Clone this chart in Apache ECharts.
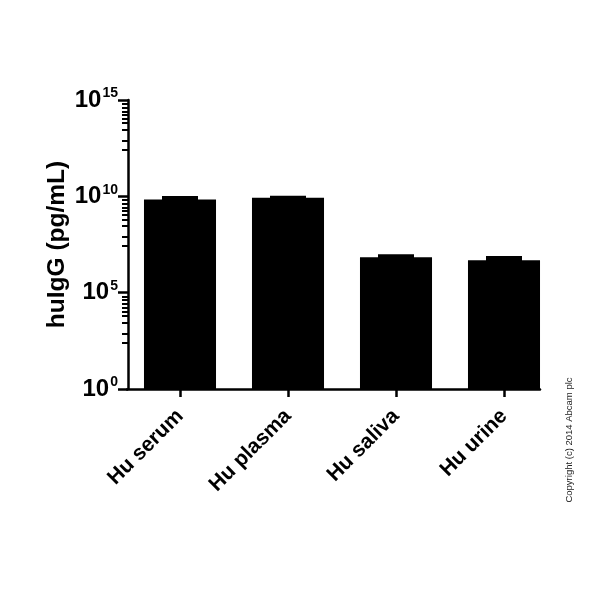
<!DOCTYPE html>
<html>
<head>
<meta charset="utf-8">
<script src="https://cdn.jsdelivr.net/npm/echarts@6/dist/echarts.min.js"></script>
<style>html,body{margin:0;padding:0;background:#fff}#c{width:594px;height:594px}</style>
</head>
<body>
<div id="c"></div>
<script>
const categories = ['Hu serum', 'Hu plasma', 'Hu saliva', 'Hu urine'];
const meanValues = [6.9e9, 8.5e9, 6.8e6, 4.8e6];
const upperValues = [1.04e10, 1.07e10, 1.0e7, 8.0e6];
const majorTickExponents = [0, 5, 10, 15];
// minor tick positions (decimal exponents) within each 5-decade span
const minorTickOffsets = [4.81, 4.62, 4.41, 4.24, 4.03, 3.81, 3.45, 2.88, 2.41];
const copyrightText = 'Copyright (c) 2014 Abcam plc';

const majorTicks = majorTickExponents.map(e => Math.pow(10, e));
const minorTicks = [];
[0, 5, 10].forEach(b => minorTickOffsets.forEach(o => minorTicks.push(Math.pow(10, b + o))));

const FONT = '"Liberation Sans", Arial, sans-serif';
const chart = echarts.init(document.getElementById('c'), null, {renderer: 'canvas'});

const gridBase = {top: 100, bottom: 205};
chart.setOption({
  animation: false,
  backgroundColor: '#fff',
  grid: [
    Object.assign({left: 126, width: 432}, gridBase),
    Object.assign({left: 127, right: 54}, gridBase)
  ],
  xAxis: [{
    type: 'category', gridIndex: 0, data: categories,
    axisLine: {show: false},
    axisTick: {show: true, alignWithLabel: true, length: 8, lineStyle: {color: '#000', width: 2.5}},
    axisLabel: {rotate: 45, margin: 24, color: '#000', fontFamily: FONT, fontWeight: 'bold', fontSize: 21}
  }, {
    type: 'value', gridIndex: 1, min: 0, max: 1,
    axisLine: {show: true, onZero: false, lineStyle: {color: '#000', width: 2.5}},
    axisTick: {show: false}, axisLabel: {show: false}, splitLine: {show: false}
  }],
  yAxis: [{
    type: 'log', gridIndex: 0, logBase: 10, min: majorTicks[0], max: majorTicks[majorTicks.length - 1],
    interval: 5, offset: -2,
    name: 'huIgG (pg/mL)', nameLocation: 'middle', nameGap: 58, nameMoveOverlap: false,
    nameTextStyle: {color: '#000', fontFamily: FONT, fontWeight: 'bold', fontSize: 24.5},
    axisLine: {show: true, lineStyle: {color: '#000', width: 2.5}},
    axisTick: {show: true, length: 10, lineStyle: {color: '#000', width: 2.5}},
    axisLabel: {
      margin: 10, showMaxLabel: true, showMinLabel: true,
      formatter: v => '{b|10}{s|' + Math.round(Math.log10(v)) + '}',
      rich: {
        b: {fontFamily: FONT, fontWeight: 'bold', fontSize: 24, color: '#000'},
        s: {fontFamily: FONT, fontWeight: 'bold', fontSize: 14, color: '#000', verticalAlign: 'top', padding: [0, 0, 13, 1]}
      }
    },
    splitLine: {show: false}
  }, {
    type: 'log', gridIndex: 0, logBase: 10, min: majorTicks[0], max: majorTicks[majorTicks.length - 1],
    position: 'left', offset: -2,
    axisLine: {show: false},
    axisTick: {show: true, length: 6, customValues: minorTicks, lineStyle: {color: '#000', width: 2}},
    axisLabel: {show: false}, splitLine: {show: false}
  }, {
    type: 'value', gridIndex: 1, min: 0, max: 1, show: false
  }],
  series: [{
    type: 'bar', xAxisIndex: 0, yAxisIndex: 0, data: meanValues,
    barCategoryGap: '33.3%', itemStyle: {color: '#000'}
  }, {
    type: 'custom', xAxisIndex: 0, yAxisIndex: 0,
    data: categories.map((c, i) => [i, meanValues[i], upperValues[i]]),
    renderItem: function (params, api) {
      const i = api.value(0);
      const lo = api.coord([i, api.value(1)]);
      const hi = api.coord([i, api.value(2)]);
      const w = api.size([1, 1])[0] / 3;
      return {type: 'rect', shape: {x: lo[0] - w / 2, y: hi[1], width: w, height: lo[1] - hi[1] + 1},
        style: {fill: '#000'}};
    },
    z: 3
  }],
  graphic: [{
    type: 'text', x: 569, y: 440, rotation: Math.PI / 2,
    style: {text: copyrightText, fill: '#222', font: '9.5px ' + FONT, align: 'center', verticalAlign: 'middle'}
  }]
});
</script>
</body>
</html>
